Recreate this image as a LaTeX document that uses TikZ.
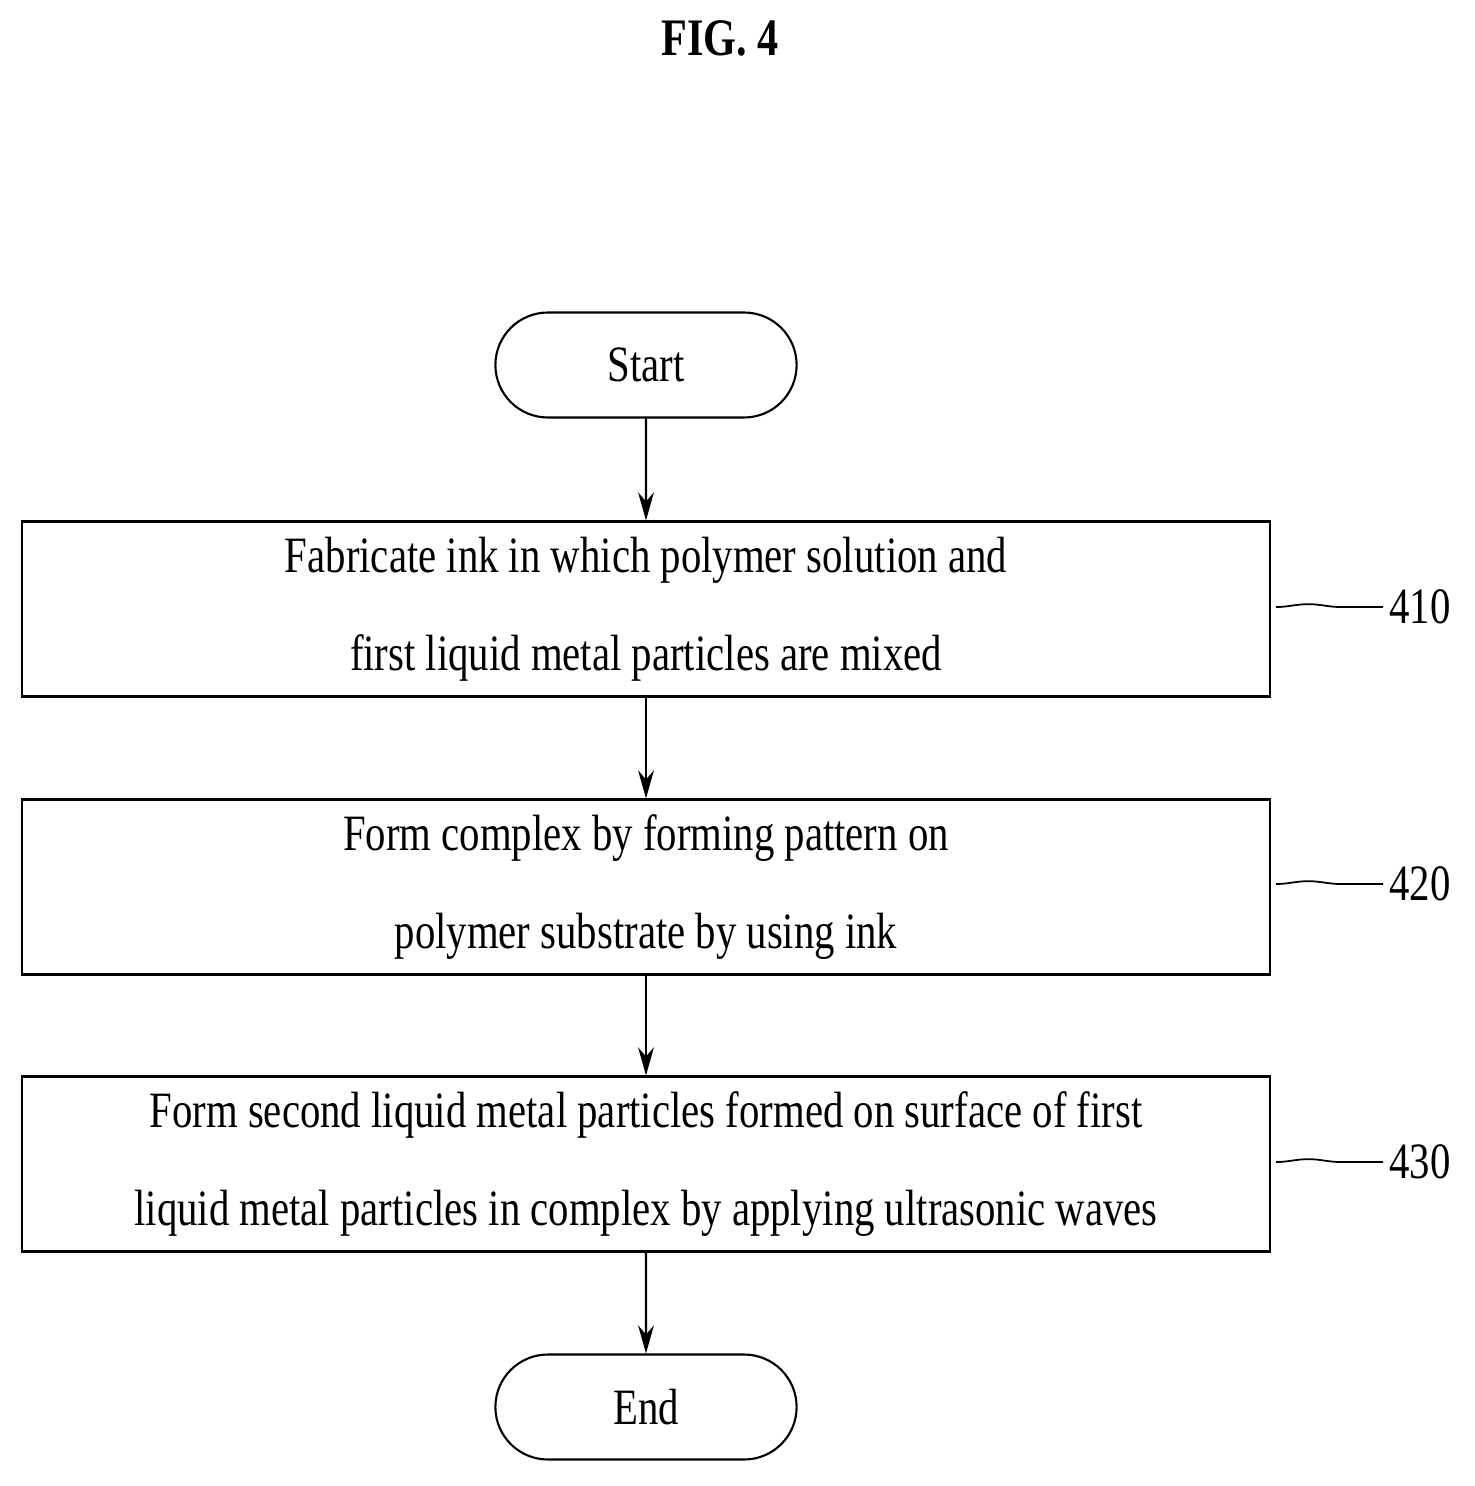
\documentclass[tikz,border=0pt]{standalone}
\usepackage{fontspec}
\setmainfont{Liberation Serif}[FakeStretch=0.8]
\usetikzlibrary{shapes.misc, arrows.meta, decorations.pathmorphing}
\tikzset{
  stepbox/.style={draw, line width=1.2pt, minimum width=24.96cm, minimum height=3.5cm, align=center, font=\fontsize{29}{56}\selectfont},
  term/.style={draw, line width=1.2pt, rounded rectangle, minimum width=6.26cm, minimum height=2.1cm, font=\fontsize{29}{34}\selectfont},
  flow/.style={-{Stealth[length=16pt,width=9pt]}, line width=1.2pt},
  tag/.style={font=\fontsize{29}{34}\selectfont},
  wave/.style={line width=1pt, decorate, decoration={snake, amplitude=1.6pt, segment length=2.07cm}}
}
\begin{document}
\begin{tikzpicture}[x=0.02cm, y=-0.02cm]
\useasboundingbox (0,0) rectangle (1474,1486);
\node[font=\bfseries\fontsize{30}{34}\selectfont] (title) at (720,38) {FIG. 4};
\node[term] (start) at (646,365) {Start};
\node[stepbox] (s410) at (646,609) {Fabricate ink in which polymer solution and\\first liquid metal particles are mixed};
\node[stepbox] (s420) at (646,887) {Form complex by forming pattern on\\polymer substrate by using ink};
\node[stepbox] (s430) at (646,1164) {Form second liquid metal particles formed on surface of first\\liquid metal particles in complex by applying ultrasonic waves};
\node[term] (end) at (646,1407) {End};
\draw[flow] (start) -- (s410);
\draw[flow] (s410) -- (s420);
\draw[flow] (s420) -- (s430);
\draw[flow] (s430) -- (end);
% step numbers
\foreach \s/\y in {410/607, 420/884, 430/1162} {
  \node[tag] (t\s) at (1420,\y) {\s};
  \draw[wave] (1276,\y) -- (t\s.west);
}
\end{tikzpicture}
\end{document}
